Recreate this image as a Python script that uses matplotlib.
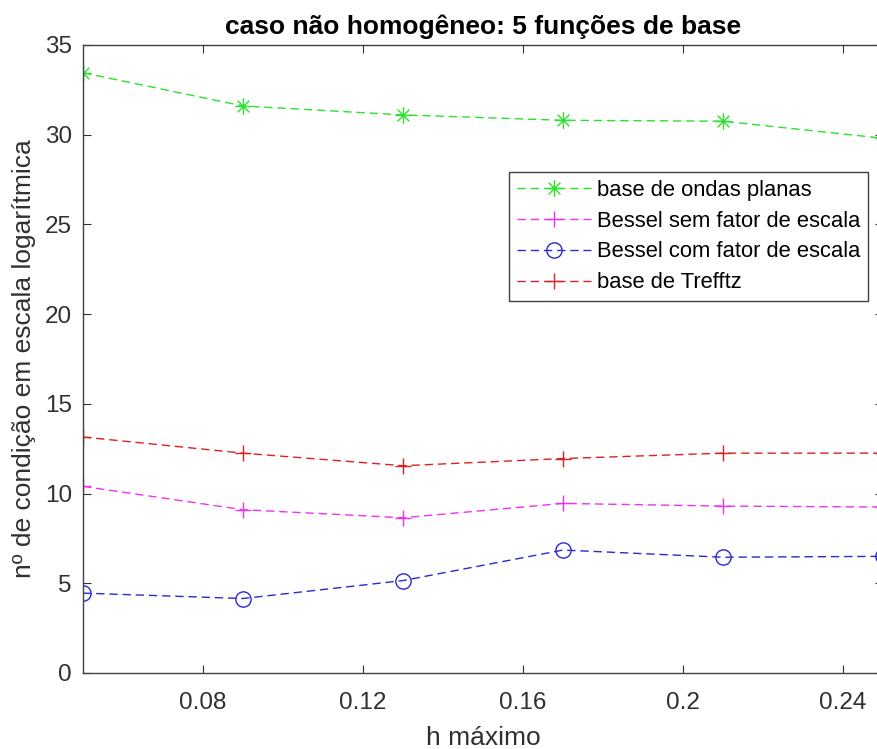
import numpy as np
import matplotlib.pyplot as plt
from matplotlib.path import Path

plt.rcParams['font.family'] = ['Liberation Sans', 'DejaVu Sans']

# x values
h_max = [0.05, 0.09, 0.13, 0.17, 0.21, 0.25]

# condition numbers (log scale) per basis
ondas_planas = [33.45, 31.6, 31.1, 30.8, 30.75, 29.8]
bessel_sem = [10.4, 9.1, 8.65, 9.45, 9.3, 9.25]
bessel_com = [4.45, 4.15, 5.15, 6.85, 6.45, 6.5]
trefftz = [13.15, 12.25, 11.55, 11.95, 12.25, 12.25]

# matlab style asterisk (plus + x)
d = 0.707
asterisk = Path([(-1, 0), (1, 0), (0, -1), (0, 1), (-d, -d), (d, d), (-d, d), (d, -d)],
                [Path.MOVETO, Path.LINETO] * 4)

fig = plt.figure(figsize=(8.77, 7.49), dpi=100)
ax = fig.add_axes([0.0946, 0.1015, 0.9122, 0.8385])

dash = (6, 3.5)
ax.plot(h_max, ondas_planas, color='#2ee02e', marker=asterisk, ms=12, mew=1, mfc='none',
        lw=1, dashes=dash, label='base de ondas planas')
ax.plot(h_max, bessel_sem, color='#ee33ee', marker='+', ms=12, mew=1,
        lw=1, dashes=dash, label='Bessel sem fator de escala')
ax.plot(h_max, bessel_com, color='#2a2ad0', marker='o', ms=11, mew=1,
        mfc='none', lw=1, dashes=dash, label='Bessel com fator de escala')
ax.plot(h_max, trefftz, color='#e02020', marker='+', ms=12, mew=1,
        lw=1, dashes=dash, label='base de Trefftz')

ax.set_xlim(0.05, 0.25)
ax.set_ylim(0, 35)
ax.set_xticks([0.08, 0.12, 0.16, 0.2, 0.24])
ax.set_xticklabels(['0.08', '0.12', '0.16', '0.2', '0.24'])
ax.set_yticks(np.arange(0, 36, 5))

ax.tick_params(direction='in', top=True, right=True, labelsize=17.5, length=5.5,
               width=0.8, colors='#303030', pad=8)
ax.tick_params(axis='x', pad=14)
for s in ax.spines.values():
    s.set_color('#404040')
    s.set_linewidth(1.0)

ax.set_xlabel('h máximo', fontsize=19, color='#303030', labelpad=8)
ax.set_ylabel('nº de condição em escala logarítmica', fontsize=19, color='#303030', labelpad=6)
ax.set_title('caso não homogêneo: 5 funções de base', fontsize=19, fontweight='bold', pad=8)

leg = ax.legend(loc='upper right', bbox_to_anchor=(0.9897, 0.7704),
                bbox_transform=fig.transFigure, borderaxespad=0, fontsize=15.8,
                fancybox=False, edgecolor='#404040', framealpha=1,
                handlelength=3.4, labelspacing=0.45, borderpad=0.35, handletextpad=0.25)
leg.get_frame().set_linewidth(1.0)

fig.savefig('out.png', dpi=100)
